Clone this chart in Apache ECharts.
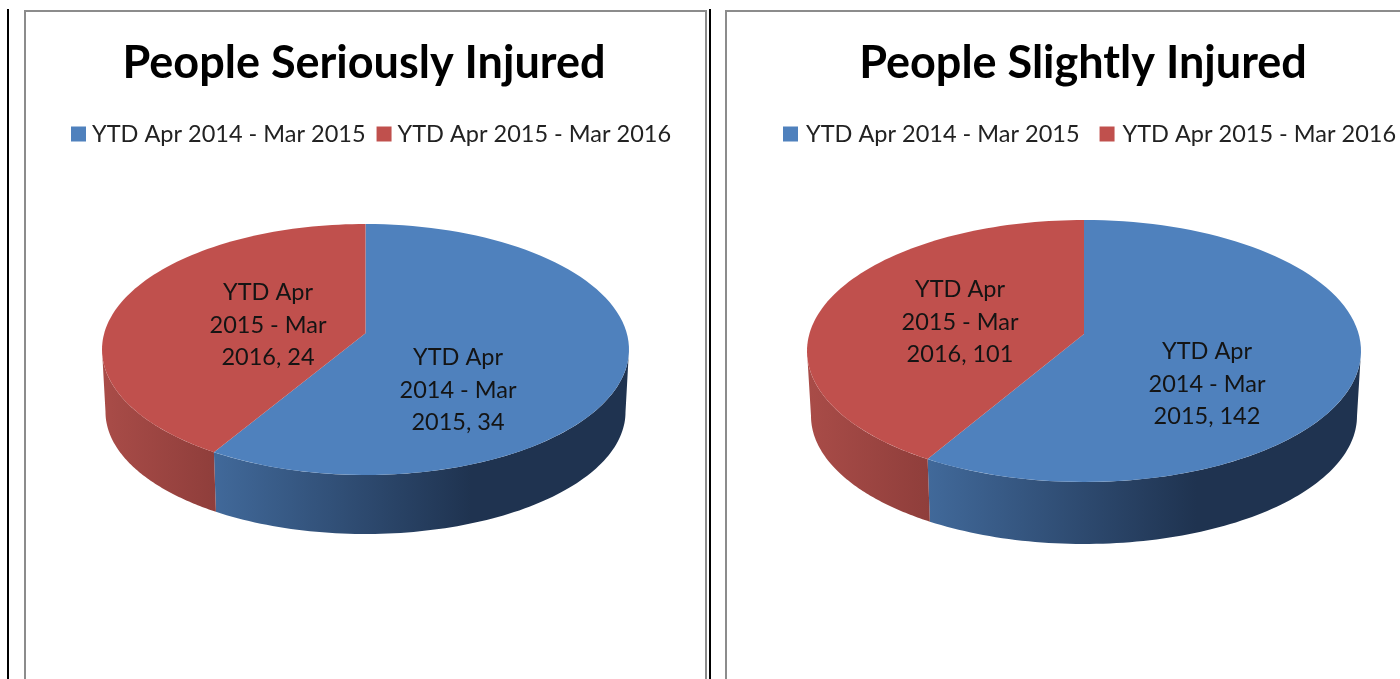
<!DOCTYPE html>
<html>
<head>
<meta charset="utf-8">
<style>
html, body { margin: 0; padding: 0; background: #fff; }
#main { width: 1400px; height: 679px; }
</style>
<script src="https://cdn.jsdelivr.net/npm/echarts@6/dist/echarts.min.js"></script>
</head>
<body>
<div id="main"></div>
<script>
const categories = ['YTD Apr 2014 - Mar 2015', 'YTD Apr 2015 - Mar 2016'];
const seriousValues = [34, 24];
const slightValues = [142, 101];

const BLUE = '#4f81bd';
const RED = '#c0504d';
const FONT = 'Lato, Carlito, "Open Sans", sans-serif';

// pie geometry per panel, screen pixels
const seriousPie = {
	cx: 365.5, cy: 349.5, a: 263.5, b: 125.5, a2: 260, b2: 122, cy2: 412,
	labels: [[458, 390], [268, 325]]
};
const slightPie = {
	cx: 1084, cy: 351, a: 277, b: 131, a2: 273, b2: 128, cy2: 416,
	labels: [[1207, 384], [960, 322]]
};

// the apex sits above the middle of the ellipse, the chart has perspective
const K = -0.13;
const S = Math.sqrt(1 - K * K);

function rimPoint(t, cx, cy, a, b) {
	const u = Math.sin(t);
	const v = -Math.cos(t);
	const d = 1 + K * v;
	return [cx + (a * u * S) / d, cy + (b * (v + K)) / d];
}

function arc(from, to, cx, cy, a, b) {
	const pts = [];
	const steps = 90;
	for (let i = 0; i <= steps; i++) {
		pts.push(rimPoint(from + ((to - from) * i) / steps, cx, cy, a, b));
	}
	return pts;
}

function wrapLabel(name, value) {
	const w = name.split(' ');
	return w.slice(0, 2).join(' ') + '\n' + w.slice(2, 5).join(' ') + '\n' + w[5] + ', ' + value;
}

function sliceSeries(values, pie) {
	const total = values[0] + values[1];
	const wallFrom = Math.acos(K);
	const wallTo = 2 * Math.PI - wallFrom;
	let start = 0;

	return values.map((value, i) => {
		const from = start;
		const to = start + (value / total) * 2 * Math.PI;
		start = to;
		const color = i === 0 ? BLUE : RED;
		const wallA = Math.max(from, wallFrom);
		const wallB = Math.min(to, wallTo);
		const wallStops =
			i === 0
				? [
						{ offset: 0, color: '#1f3350' },
						{ offset: 0.38, color: '#1f3350' },
						{ offset: 1, color: '#41699a' }
				  ]
				: [
						{ offset: 0, color: '#a94c48' },
						{ offset: 1, color: '#8f3e3b' }
				  ];

		return {
			type: 'custom',
			name: categories[i],
			coordinateSystem: 'none',
			silent: true,
			itemStyle: { color },
			data: [[value]],
			renderItem: () => {
				const top = [[pie.cx, pie.cy + K * pie.b]].concat(arc(from, to, pie.cx, pie.cy, pie.a, pie.b));
				const wall = arc(wallA, wallB, pie.cx, pie.cy, pie.a, pie.b).concat(
					arc(wallB, wallA, pie.cx, pie.cy2, pie.a2, pie.b2)
				);
				return {
					type: 'group',
					children: [
						{
							type: 'polygon',
							shape: { points: wall },
							style: {
								fill: new echarts.graphic.LinearGradient(i === 0 ? 1 : 0, 0, i === 0 ? 0 : 1, 0, wallStops)
							}
						},
						{
							type: 'polygon',
							shape: { points: top },
							style: { fill: color }
						},
						{
							type: 'text',
							z2: 10,
							style: {
								x: pie.labels[i][0],
								y: pie.labels[i][1],
								text: wrapLabel(categories[i], value),
								align: 'center',
								verticalAlign: 'middle',
								fill: '#141414',
								font: '23.5px ' + FONT,
								lineHeight: 32.5
							}
						}
					]
				};
			}
		};
	});
}

const chart = echarts.init(document.getElementById('main'), null, { renderer: 'canvas' });

const titleStyle = { fontFamily: FONT, fontSize: 45, fontWeight: 'bold', color: '#000' };
const legendBase = {
	data: categories,
	orient: 'horizontal',
	selectedMode: false,
	icon: 'rect',
	itemWidth: 15,
	itemHeight: 15,
	top: 122,
	width: 660,
	padding: 0
};
const legendText = { fontFamily: FONT, fontSize: 23.5, color: '#222' };

chart.setOption({
	animation: false,
	backgroundColor: '#fff',
	title: [
		{ text: 'People Seriously Injured', left: 364, top: 41, textAlign: 'center', padding: 0, textStyle: titleStyle },
		{ text: 'People Slightly Injured', left: 1083, top: 41, textAlign: 'center', padding: 0, textStyle: titleStyle }
	],
	legend: [
		{ ...legendBase, left: 71, itemGap: 11, textStyle: { ...legendText, padding: [0, 0, 0, 1] } },
		{ ...legendBase, left: 783, itemGap: 20, textStyle: { ...legendText, padding: [0, 0, 0, 3] } }
	],
	graphic: [
		{ type: 'rect', shape: { x: 25, y: 11, width: 681, height: 700 }, style: { fill: 'none', stroke: '#8c8c8c', lineWidth: 2 }, silent: true },
		{ type: 'rect', shape: { x: 726, y: 11, width: 700, height: 700 }, style: { fill: 'none', stroke: '#8c8c8c', lineWidth: 2 }, silent: true },
		{ type: 'line', shape: { x1: 8, y1: 9, x2: 8, y2: 679 }, style: { stroke: '#000', lineWidth: 2 }, silent: true },
		{ type: 'line', shape: { x1: 710, y1: 9, x2: 710, y2: 679 }, style: { stroke: '#000', lineWidth: 2 }, silent: true }
	],
	series: sliceSeries(seriousValues, seriousPie).concat(sliceSeries(slightValues, slightPie))
});

window.addEventListener('resize', () => chart.resize());
</script>
</body>
</html>
